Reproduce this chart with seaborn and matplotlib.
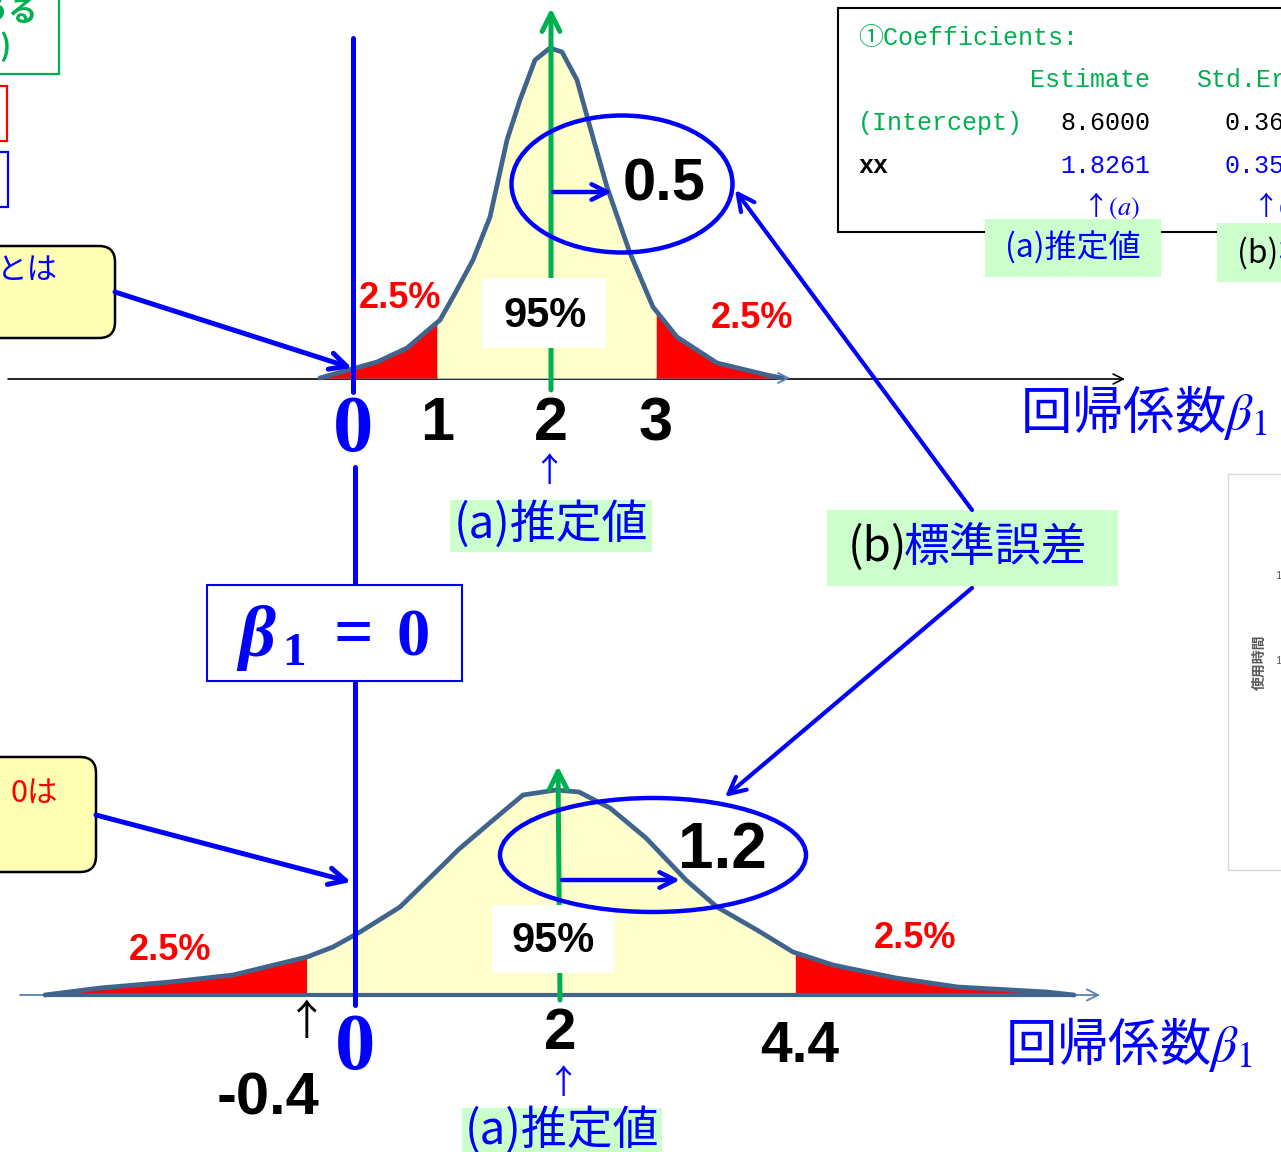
import numpy as np
import matplotlib
matplotlib.use("Agg")
import matplotlib.pyplot as plt
from matplotlib.patches import Ellipse, Rectangle, FancyBboxPatch
import seaborn as sns

# ---- values -------------------------------------------------------------
upper_est, upper_se = 2.0, 0.5          # narrow sampling distribution
lower_est, lower_se = 2.0, 1.2          # wide sampling distribution
upper_ticks = [0, 1, 2, 3]
lower_ticks = [-0.4, 0, 2, 4.4]

# horizontal placement of the beta values on each sketch
upper_tick_px = [353, 437, 551, 656]
lower_tick_px = [307, 355, 560, 795]

# hand-drawn density outlines (sketch units)
upper_curve_x = [320, 352, 377, 407, 440, 453, 473, 490, 507, 520, 535, 550, 562,
                 577, 590, 607, 630, 653, 677, 717, 767, 782]
upper_curve_y = [378, 369, 362, 348, 320, 297, 260, 217, 140, 100, 60, 48, 52,
                 80, 127, 187, 253, 307, 337, 363, 375, 378]
lower_curve_x = [45, 100, 170, 233, 307, 333, 360, 400, 445, 458, 492, 523, 556,
                 579, 610, 646, 686, 717, 757, 793, 833, 896, 958, 1047, 1074]
lower_curve_y = [995, 988, 982, 975, 957, 947, 932, 907, 863, 850, 821, 795, 790,
                 792, 808, 838, 880, 907, 930, 952, 965, 978, 987, 992, 995]
upper_base, lower_base = 378, 995

coef_rows = ["(Intercept)", "xx"]
coef_estimate = ["8.6000", "1.8261"]
coef_stderr = ["0.36", "0.35"]

# ---- style --------------------------------------------------------------
sns.set_theme(style="white")
plt.rcParams["font.family"] = ["Noto Sans CJK JP", "DejaVu Sans"]
plt.rcParams["mathtext.fontset"] = "stix"

BLUE = "#0000FF"
RED = "#FF0000"
GREEN = "#00B050"
CURVE = "#41648D"
PALE_YELLOW = "#FFFFCC"
NOTE_YELLOW = "#FFFFB3"
LABEL_GREEN = "#CCFFCC"
SANS_B = ["Liberation Sans", "DejaVu Sans"]
SERIF_B = ["Liberation Serif", "DejaVu Serif"]
MONO = ["Liberation Mono", "Noto Sans CJK JP", "DejaVu Sans"]
JP = ["Noto Sans CJK JP", "DejaVu Sans"]

fig = plt.figure(figsize=(12.81, 11.52), dpi=100)
ax = fig.add_axes([0, 0, 1, 1])
ax.set_xlim(0, 1281)
ax.set_ylim(1152, 0)
ax.axis("off")


def arrow(x0, y0, x1, y1, color=BLUE, lw=3.4, ms=32, z=5):
    ax.annotate("", xy=(x1, y1), xytext=(x0, y0),
                arrowprops=dict(arrowstyle="->", color=color, lw=lw,
                                mutation_scale=ms, shrinkA=0, shrinkB=0),
                zorder=z)


def txt(x, y, s, size, color="black", family=SANS_B, weight="bold",
        ha="center", va="center", **kw):
    return ax.text(x, y, s, fontsize=size, color=color, family=family,
                   fontweight=weight, ha=ha, va=va, **kw)


def tag(x0, y0, x1, y1):
    ax.add_patch(Rectangle((x0, y0), x1 - x0, y1 - y0, facecolor=LABEL_GREEN,
                           edgecolor="none", zorder=3))


def density(cx, cy, base, lo_px, hi_px):
    xs = np.linspace(cx[0], cx[-1], 1500)
    ys = np.interp(xs, cx, cy)
    mid = (xs >= lo_px) & (xs <= hi_px)
    ax.fill_between(xs, base, ys, where=mid, color=PALE_YELLOW, lw=0, zorder=1)
    ax.fill_between(xs, base, ys, where=xs <= lo_px, color=RED, lw=0, zorder=1)
    ax.fill_between(xs, base, ys, where=xs >= hi_px, color=RED, lw=0, zorder=1)
    sns.lineplot(x=cx, y=cy, ax=ax, color=CURVE, lw=3.4, zorder=2,
                 estimator=None, sort=False)


def to_px(b, ticks, px):
    return float(np.interp(b, ticks, px))


# ---- upper distribution -------------------------------------------------
u_lo = to_px(upper_est - 2 * upper_se, upper_ticks, upper_tick_px)
u_hi = to_px(upper_est + 2 * upper_se, upper_ticks, upper_tick_px)
u_mid = to_px(upper_est, upper_ticks, upper_tick_px)
u_zero = to_px(0, upper_ticks, upper_tick_px)

arrow(8, 379, 1125, 379, color="black", lw=1.2, ms=18, z=0.5)
arrow(318, upper_base, 790, upper_base, color="#5B7FB0", lw=1.3, ms=18, z=0.6)
density(upper_curve_x, upper_curve_y, upper_base, u_lo, u_hi)

ax.add_patch(Rectangle((482, 278), 124, 70, facecolor="white", edgecolor="none", zorder=3))
arrow(u_mid, 390, u_mid, 8, color=GREEN, lw=3.6, ms=32, z=2.5)
txt(545, 316, "95%", 30, zorder=4)
txt(400, 299, "2.5%", 26, color=RED, zorder=4)
txt(752, 318, "2.5%", 26, color=RED, zorder=4)

ax.add_patch(Ellipse((622, 184), 221, 137, fill=False, edgecolor=BLUE, lw=3.2, zorder=4))
arrow(u_mid + 2, 192, 612, 192, lw=3.2, ms=28)
txt(664, 185, "0.5", 43, zorder=5)

ax.plot([u_zero, u_zero], [38, 392], color=BLUE, lw=3.6, zorder=3)
txt(u_zero, 432, "0", 58, color=BLUE, family=SERIF_B)
for b in upper_ticks[1:]:
    txt(to_px(b, upper_ticks, upper_tick_px), 425, f"{b:g}", 44)
txt(u_mid - 2, 472, "↑", 24, color=BLUE, weight="normal", family=JP)
tag(450, 500, 652, 552)
txt(551, 525, "(a)推定値", 33, color=BLUE, weight="normal", family=JP, zorder=4)
txt(1020, 413, "回帰係数$\\beta_1$", 37, color=BLUE, weight="normal",
    family=JP, ha="left")

# ---- lower distribution -------------------------------------------------
l_lo = to_px(lower_est - 2 * lower_se, lower_ticks, lower_tick_px)
l_hi = to_px(lower_est + 2 * lower_se, lower_ticks, lower_tick_px)
l_mid = to_px(lower_est, lower_ticks, lower_tick_px)
l_zero = to_px(0, lower_ticks, lower_tick_px)

arrow(20, lower_base, 1100, lower_base, color="#5B7FB0", lw=1.3, ms=20, z=0.6)
density(lower_curve_x, lower_curve_y, lower_base, l_lo, l_hi)
ax.plot(lower_curve_x[:1] + lower_curve_x[-1:], [lower_base, lower_base],
        color=CURVE, lw=3, zorder=2)

ax.add_patch(Rectangle((492, 905), 122, 68, facecolor="white", edgecolor="none", zorder=3))
arrow(l_mid, 1000, l_mid - 2, 766, color=GREEN, lw=3.6, ms=32, z=2.5)
txt(553, 941, "95%", 30, zorder=4)
txt(170, 951, "2.5%", 26, color=RED, zorder=4)
txt(915, 938, "2.5%", 26, color=RED, zorder=4)

ax.add_patch(Ellipse((653, 855), 306, 114, fill=False, edgecolor=BLUE, lw=3.2, zorder=4))
arrow(l_mid + 2, 880, 680, 880, lw=3.2, ms=28)
txt(722, 851, "1.2", 46, zorder=5)

ax.plot([l_zero, l_zero], [467, 1005], color=BLUE, lw=3.6, zorder=3)
txt(l_zero, 1050, "0", 58, color=BLUE, family=SERIF_B)
txt(l_mid, 1034, f"{lower_est:g}", 42)
txt(l_hi + 5, 1047, f"{lower_est + 2 * lower_se:.1f}", 41)
txt(l_lo, 1024, "↑", 30, weight="normal", family=JP)
txt(268, 1099, f"{lower_est - 2 * lower_se:.1f}", 43)
txt(l_mid + 3, 1083, "↑", 24, color=BLUE, weight="normal", family=JP)
tag(462, 1108, 662, 1160)
txt(562, 1131, "(a)推定値", 33, color=BLUE, weight="normal", family=JP, zorder=4)
txt(1005, 1045, "回帰係数$\\beta_1$", 37, color=BLUE, weight="normal",
    family=JP, ha="left")

# ---- beta1 = 0 box ------------------------------------------------------
ax.add_patch(Rectangle((207, 585), 255, 96, facecolor="white", edgecolor=BLUE,
                       lw=1.5, zorder=6))
txt(238, 638, "β", 52, color=BLUE, family=SERIF_B, ha="left",
    style="italic", zorder=7)
txt(282, 654, "1", 34, color=BLUE, family=SERIF_B, ha="left", zorder=7)
txt(353, 638, "=", 50, color=BLUE, family=SERIF_B, zorder=7)
txt(413, 639, "0", 48, color=BLUE, family=SERIF_B, zorder=7)

# ---- standard error label and pointers ----------------------------------
tag(827, 510, 1118, 586)
txt(848, 548, "(b)", 33, weight="normal", family=JP, ha="left", zorder=4)
txt(904, 548, "標準誤差", 33, color=BLUE, weight="normal", family=JP, ha="left", zorder=4)
arrow(972, 510, 735, 190, lw=3.0, ms=30)
arrow(972, 588, 725, 797, lw=3.0, ms=30)

# ---- coefficient table --------------------------------------------------
ax.add_patch(Rectangle((838, 8), 500, 224, facecolor="white", edgecolor="black",
                       lw=1.5, zorder=1))
txt(858, 38, "①Coefficients:", 18, color=GREEN, weight="normal", family=MONO, ha="left")
txt(1150, 80, "Estimate", 18, color=GREEN, weight="normal", family=MONO, ha="right")
txt(1196, 80, "Std.Error", 18, color=GREEN, weight="normal", family=MONO, ha="left")
row_colors = ["black", BLUE]
name_colors = [GREEN, "black"]
name_weights = ["normal", "bold"]
for i, (nm, est, se) in enumerate(zip(coef_rows, coef_estimate, coef_stderr)):
    y = 123 + 43 * i
    txt(858, y, nm, 18, color=name_colors[i], weight=name_weights[i], family=MONO, ha="left")
    txt(1150, y, est, 18, color=row_colors[i], weight="normal", family=MONO, ha="right")
    txt(1225, y, se, 18, color=row_colors[i], weight="normal", family=MONO, ha="left")
txt(1140, 206, "↑$(a)$", 19, color=BLUE, weight="normal", family=JP, ha="right")
txt(1252, 206, "↑$(b)$", 19, color=BLUE, weight="normal", family=JP, ha="left")
tag(985, 219, 1161, 277)
txt(1073, 248, "(a)推定値", 23, color=BLUE, weight="normal", family=JP, zorder=4)
tag(1217, 223, 1300, 282)
txt(1237, 253, "(b)", 23, weight="normal", family=JP, ha="left", zorder=4)
txt(1278, 253, "標準誤差", 23, color=BLUE, weight="normal", family=JP, ha="left", zorder=4)

# ---- side notes on the left ---------------------------------------------
ax.add_patch(Rectangle((-20, -20), 79, 94, facecolor="none", edgecolor=GREEN, lw=1.6))
txt(38, 12, "うる", 21, color=GREEN, family=JP, ha="right")
txt(12, 47, "値)", 21, color=GREEN, family=JP, ha="right")
ax.add_patch(Rectangle((-20, 86), 27, 55, facecolor="none", edgecolor=RED, lw=1.6))
ax.add_patch(Rectangle((-20, 152), 28, 55, facecolor="none", edgecolor=BLUE, lw=1.6))

ax.add_patch(FancyBboxPatch((-40, 246), 155, 92, boxstyle="round,pad=0,rounding_size=16",
                            facecolor=NOTE_YELLOW, edgecolor="black", lw=1.8, zorder=4))
txt(58, 270, "とは", 22, color=BLUE, weight="normal", family=JP, ha="right", zorder=5)
arrow(115, 292, u_zero - 1, 368, lw=3.6, ms=30)

ax.add_patch(FancyBboxPatch((-40, 757), 136, 115, boxstyle="round,pad=0,rounding_size=16",
                            facecolor=NOTE_YELLOW, edgecolor="black", lw=1.8, zorder=4))
txt(58, 793, "0は", 22, color=RED, weight="normal", family=JP, ha="right", zorder=5)
arrow(96, 815, l_zero - 4, 882, lw=3.6, ms=30)

# ---- edge of a neighbouring chart on the right ---------------------------
ax.add_patch(Rectangle((1228, 474), 120, 396, facecolor="white", edgecolor="#D9D9D9", lw=1))
txt(1260, 662, "使用時間", 10, color="#595959", family=JP, rotation=90)
txt(1278, 576, "1", 8, color="#595959", weight="normal")
txt(1278, 661, "1", 8, color="#595959", weight="normal")

fig.savefig("out.png", dpi=100)
